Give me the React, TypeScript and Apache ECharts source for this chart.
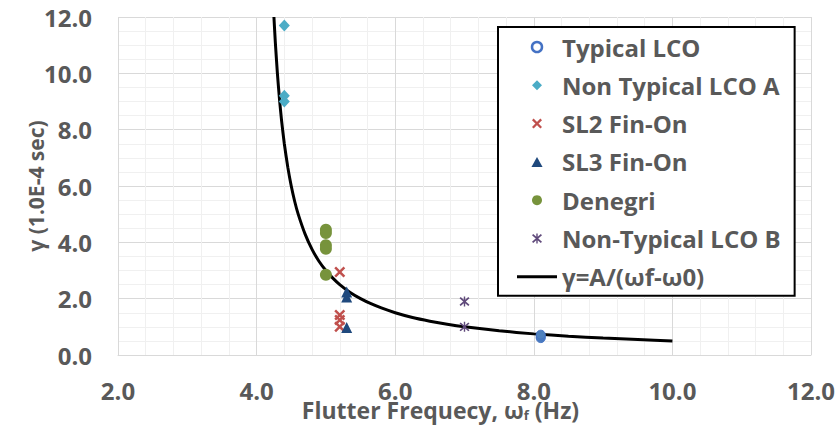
import React, { useEffect, useRef } from "react";
import * as echarts from "echarts";

const xTicks = [2, 4, 6, 8, 10, 12];
const yTicks = [0, 2, 4, 6, 8, 10, 12];

const typicalX = [8.1, 8.1, 8.1];
const typicalY = [0.6, 0.66, 0.72];
const nonTypAX = [4.4, 4.4, 4.4];
const nonTypAY = [11.7, 9.2, 9.0];
const sl2X = [5.2, 5.2, 5.2, 5.2];
const sl2Y = [2.95, 1.42, 1.24, 1.0];
const sl3X = [5.3, 5.3, 5.3];
const sl3Y = [2.24, 2.06, 0.98];
const denegriX = [5.0, 5.0, 5.0, 5.0, 5.0];
const denegriY = [4.45, 4.33, 3.9, 3.77, 2.85];
const nonTypBX = [7.0, 7.0];
const nonTypBY = [1.9, 1.0];

const curveX = [4.25, 4.27, 4.3, 4.33, 4.36, 4.4, 4.45, 4.5, 4.55, 4.6, 4.7, 4.8, 4.9, 5.0, 5.1, 5.2, 5.35, 5.5, 5.65, 5.8, 6.0, 6.25, 6.5, 6.75, 7.0, 7.5, 8.0, 8.5, 9.0, 9.5, 10.0];
const curveY = [12.0, 11.11, 10.0, 9.09, 8.33, 7.5, 6.67, 6.0, 5.45, 5.0, 4.29, 3.75, 3.33, 3.0, 2.73, 2.5, 2.22, 2.0, 1.82, 1.67, 1.5, 1.33, 1.2, 1.09, 1.0, 0.86, 0.75, 0.67, 0.6, 0.55, 0.5];

const seriesNames = [
  "Typical LCO",
  "Non Typical LCO A",
  "SL2 Fin-On",
  "SL3 Fin-On",
  "Denegri",
  "Non-Typical LCO B",
  "γ=A/(ωf-ω0)",
];

const pair = (xs: number[], ys: number[]) => xs.map((x, i) => [x, ys[i]]);

const X_PATH = "path://M0,1.6 L1.6,0 L10,8.4 L8.4,10 Z M8.4,0 L10,1.6 L1.6,10 L0,8.4 Z";
const STAR_PATH = "path://M0,1.7 L1.2,0.6 L10,8.3 L8.8,9.4 Z M8.8,0.6 L10,1.7 L1.2,9.4 L0,8.3 Z M4.3,0 L5.7,0 L5.7,10 L4.3,10 Z";
const DIAMOND_PATH = "path://M5,0 L10,5 L5,10 L0,5 Z";
const TRIANGLE_PATH = "path://M5,0 L10,9 L0,9 Z";
const LINE_PATH = "path://M0,0 L40,0 L40,3 L0,3 Z";

const FONT = "'Open Sans', 'Noto Sans', sans-serif";
const TXT = "#595959";

export default function App() {
  const ref = useRef<HTMLDivElement>(null);
  useEffect(() => {
    if (!ref.current) return;
    const chart = echarts.init(ref.current, null, { renderer: "svg" });
    chart.setOption({
      animation: false,
      backgroundColor: "#ffffff",
      grid: { left: 118, right: 28, top: 17, bottom: 75, outerBoundsMode: "none", containLabel: false },
      legend: {
        orient: "vertical",
        left: 498,
        top: 27,
        padding: [6, 14, 5, 19],
        itemWidth: 40,
        itemHeight: 10,
        itemGap: 10.3,
        symbolKeepAspect: true,
        borderColor: "#000000",
        borderWidth: 2,
        backgroundColor: "#ffffff",
        textStyle: { fontFamily: FONT, fontWeight: "bold", fontSize: 24, lineHeight: 28, color: TXT },
        data: [
          { name: seriesNames[0], icon: "circle", itemStyle: { color: "#ffffff", borderColor: "#4472C4", borderWidth: 2.5 } },
          { name: seriesNames[1], icon: DIAMOND_PATH },
          { name: seriesNames[2], icon: X_PATH },
          { name: seriesNames[3], icon: TRIANGLE_PATH },
          { name: seriesNames[4], icon: "circle" },
          { name: seriesNames[5], icon: STAR_PATH },
          { name: seriesNames[6], icon: LINE_PATH, itemStyle: { color: "#000000" } },
        ],
      },
      xAxis: {
        type: "value",
        min: xTicks[0],
        max: xTicks[xTicks.length - 1],
        interval: 2,
        name: "Flutter Frequecy, ω{sub|f} (Hz)",
        nameLocation: "middle",
        nameGap: 44,
        nameMoveOverlap: false,
        nameTextStyle: {
          fontFamily: FONT,
          fontWeight: "bold",
          fontSize: 23,
          lineHeight: 20,
          color: TXT,
          padding: [0, 48, 0, 0],
          rich: {
            sub: { fontFamily: FONT, fontWeight: "bold", fontSize: 13, color: TXT, verticalAlign: "bottom", lineHeight: 22 },
          },
        },
        axisLine: { show: true, lineStyle: { color: "#d9d9d9", width: 1 } },
        axisTick: { show: false },
        axisLabel: {
          margin: 26,
          fontFamily: FONT,
          fontWeight: "bold",
          fontSize: 24,
          lineHeight: 18,
          color: TXT,
          formatter: (v: number) => v.toFixed(1),
        },
        splitLine: { show: true, lineStyle: { color: "#d9d9d9", width: 1 } },
        minorTick: { show: false, splitNumber: 5 },
        minorSplitLine: { show: true, lineStyle: { color: "#f0f0f0", width: 1 } },
      },
      yAxis: {
        type: "value",
        min: yTicks[0],
        max: yTicks[yTicks.length - 1],
        interval: 2,
        name: "γ (1.0E-4 sec)",
        nameLocation: "middle",
        nameGap: 72,
        nameMoveOverlap: false,
        nameTextStyle: { fontFamily: FONT, fontWeight: "bold", fontSize: 21, color: TXT },
        axisLine: { show: false },
        axisTick: { show: false },
        axisLabel: {
          margin: 26,
          fontFamily: FONT,
          fontWeight: "bold",
          fontSize: 24,
          color: TXT,
          formatter: (v: number) => v.toFixed(1),
        },
        splitLine: { show: true, lineStyle: { color: "#d9d9d9", width: 1 } },
        minorTick: { show: false, splitNumber: 4 },
        minorSplitLine: { show: true, lineStyle: { color: "#f0f0f0", width: 1 } },
      },
      series: [
        {
          name: seriesNames[0],
          type: "scatter",
          symbol: "circle",
          symbolSize: 9,
          itemStyle: { color: "#4F81BD", borderColor: "#4472C4", borderWidth: 1, opacity: 1 },
          data: pair(typicalX, typicalY),
        },
        {
          name: seriesNames[1],
          type: "scatter",
          symbol: "diamond",
          symbolSize: [11, 12],
          itemStyle: { color: "#4BACC6", opacity: 1 },
          data: pair(nonTypAX, nonTypAY),
        },
        {
          name: seriesNames[2],
          type: "scatter",
          symbol: X_PATH,
          symbolSize: 11,
          itemStyle: { color: "#C0504D", opacity: 1 },
          data: pair(sl2X, sl2Y),
        },
        {
          name: seriesNames[3],
          type: "scatter",
          symbol: "triangle",
          symbolSize: 11,
          itemStyle: { color: "#1F497D", opacity: 1 },
          data: pair(sl3X, sl3Y),
        },
        {
          name: seriesNames[4],
          type: "scatter",
          symbol: "circle",
          symbolSize: 12,
          itemStyle: { color: "#77933C", opacity: 1 },
          data: pair(denegriX, denegriY),
        },
        {
          name: seriesNames[5],
          type: "scatter",
          symbol: STAR_PATH,
          symbolSize: 10,
          itemStyle: { color: "#604A7B", opacity: 1 },
          data: pair(nonTypBX, nonTypBY),
        },
        {
          name: seriesNames[6],
          type: "line",
          symbol: "none",
          smooth: 0.2,
          lineStyle: { color: "#000000", width: 3 },
          itemStyle: { color: "#000000" },
          data: pair(curveX, curveY),
          z: 1,
        },
      ],
    });
    return () => chart.dispose();
  }, []);
  return (
    <div
      ref={ref}
      style={{ position: "fixed", left: 0, top: 0, width: 839, height: 430, background: "#fff" }}
    />
  );
}
